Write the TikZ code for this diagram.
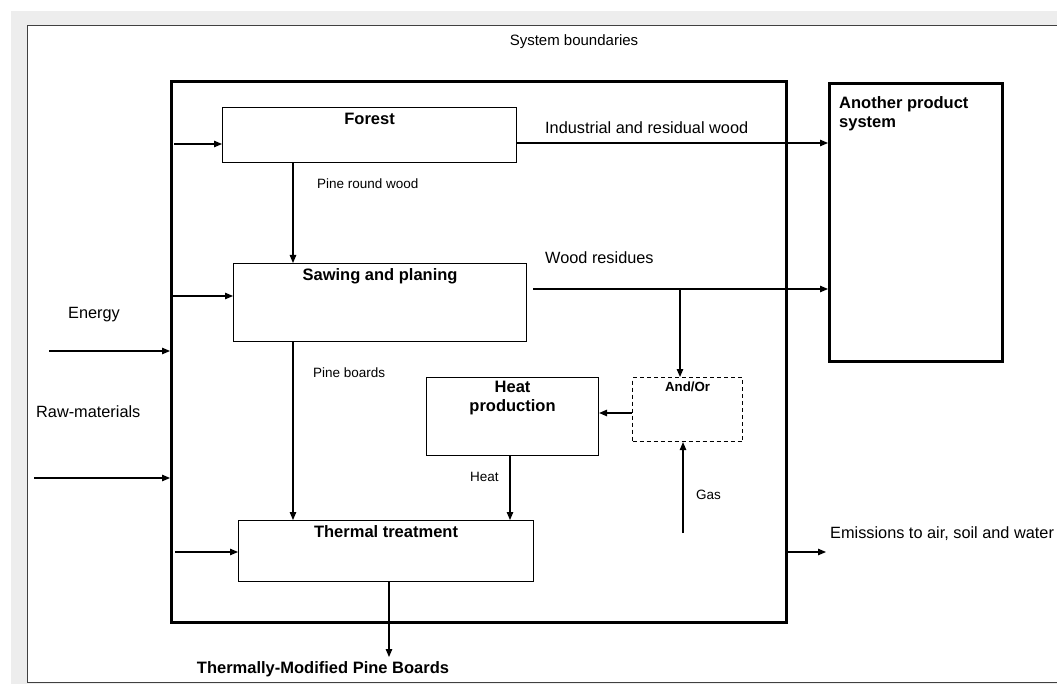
\documentclass[tikz,border=0pt]{standalone}
\usepackage{fontspec}
\setmainfont{Liberation Sans}
\usetikzlibrary{arrows.meta}
\begin{document}
\begin{tikzpicture}[x=1pt,y=-1pt,
  procbox/.style={draw, line width=1.1pt, rectangle, inner sep=0pt, anchor=north west},
  heavybox/.style={draw, line width=3pt, rectangle, inner sep=0pt, anchor=north west},
  dashbox/.style={draw, line width=1.1pt, dash pattern=on 4pt off 3pt, rectangle, inner sep=0pt, anchor=north west},
  arr/.style={-{Triangle[length=8pt,width=6.5pt]}, line width=1.1pt},
  lab/.style={font=\fontsize{16.3}{19}\selectfont, inner sep=0pt},
  smalllab/.style={font=\fontsize{13.5}{16}\selectfont, inner sep=0pt},
  ttl/.style={font=\bfseries\fontsize{16.5}{19.5}\selectfont, inner sep=0pt, align=center},
  smallttl/.style={font=\bfseries\fontsize{13.3}{16}\selectfont, inner sep=0pt}
]
\useasboundingbox (0,0) rectangle (1057,684);
\fill[white] (0,0) rectangle (1057,684);
\fill[black!7] (11,11) rectangle (1057,684);
\fill[white] (27,26) rectangle (1057,682);
\draw[line width=1pt, black!75] (1057,26) -- (27,26) -- (27,682) -- (1057,682);

\node[lab, font=\fontsize{15}{18}\selectfont] (sysT) at (574,42) {System boundaries};

% boxes
\node[heavybox, minimum width=615pt, minimum height=541pt] (sysb) at (170,80) {};
\node[procbox, minimum width=294pt, minimum height=55pt] (forest) at (222,107) {};
\node[procbox, minimum width=293pt, minimum height=78pt] (sawing) at (233,263) {};
\node[procbox, minimum width=172pt, minimum height=78pt] (heat) at (426,377) {};
\node[dashbox, minimum width=110pt, minimum height=64pt] (andor) at (632,377) {};
\node[procbox, minimum width=295pt, minimum height=61pt] (thermal) at (238,520) {};
\node[heavybox, minimum width=173pt, minimum height=278pt] (another) at (828,82) {};

% titles
\node[ttl] (forestT) at ([yshift=-12pt]forest.north) {Forest};
\node[ttl] (sawingT) at ([yshift=-13pt]sawing.north) {Sawing and planing};
\node[ttl] (heatT) at ([yshift=-21pt]heat.north) {Heat\\production};
\node[smallttl] (andorT) at ([yshift=-10pt]andor.north) {And/Or};
\node[ttl] (thermalT) at ([yshift=-12pt]thermal.north) {Thermal treatment};
\node[ttl, align=left, anchor=north west] (anotherT) at (839,96) {Another product\\system};

% labels
\node[lab, anchor=west] (indT) at (545,128) {Industrial and residual wood};
\node[lab, anchor=west] (wrT) at (545,258) {Wood residues};
\node[lab, anchor=west] (energyT) at (68,315) {Energy};
\node[lab, anchor=west] (rawT) at (36,412) {Raw-materials};
\node[smalllab, anchor=west] (prwT) at (317,184) {Pine round wood};
\node[smalllab, anchor=west] (pbT) at (313,373) {Pine boards};
\node[smalllab, anchor=west] (heatL) at (470,477) {Heat};
\node[smalllab, anchor=west] (gasT) at (696,495) {Gas};
\node[lab, anchor=west] (emT) at (830,534) {Emissions to air, soil and water};
\node[ttl] (prodT) at (323,669) {Thermally-Modified Pine Boards};

% free ends
\coordinate (inF) at (174,144);
\coordinate (inS) at (171,296);
\coordinate (inT) at (175,552);
\coordinate (inE) at (49,351);
\coordinate (inR) at (34,478);
\coordinate (wr) at (533,289);
\coordinate (br) at (680,289);
\coordinate (gas) at (683,533);
\coordinate (prod) at (389,657);
\coordinate (em) at (826,552);

% connectors
\draw[arr] (inF) -- (forest.west |- inF);
\draw[arr] (inS) -- (sawing.west |- inS);
\draw[arr] (inT) -- (thermal.west |- inT);
\draw[arr] (inE) -- (sysb.west |- inE);
\draw[arr] (inR) -- (sysb.west |- inR);
\draw[arr] (forest.east |- 0,143) -- (another.west |- 0,143);
\draw[arr] (wr) -- (another.west |- wr);
\draw[arr] (br) -- (andor.north -| br);
\draw[arr] (gas) -- (andor.south -| gas);
\draw[arr] (andor.west |- 0,413) -- (heat.east |- 0,413);
\draw[arr] (heat.south -| 510,0) -- (thermal.north -| 510,0);
\draw[arr] (forest.south -| 293,0) -- (sawing.north -| 293,0);
\draw[arr] (sawing.south -| 293,0) -- (thermal.north -| 293,0);
\draw[arr] (thermal.south -| prod) -- (prod);
\draw[arr] (sysb.east |- em) -- (em);
\end{tikzpicture}
\end{document}
